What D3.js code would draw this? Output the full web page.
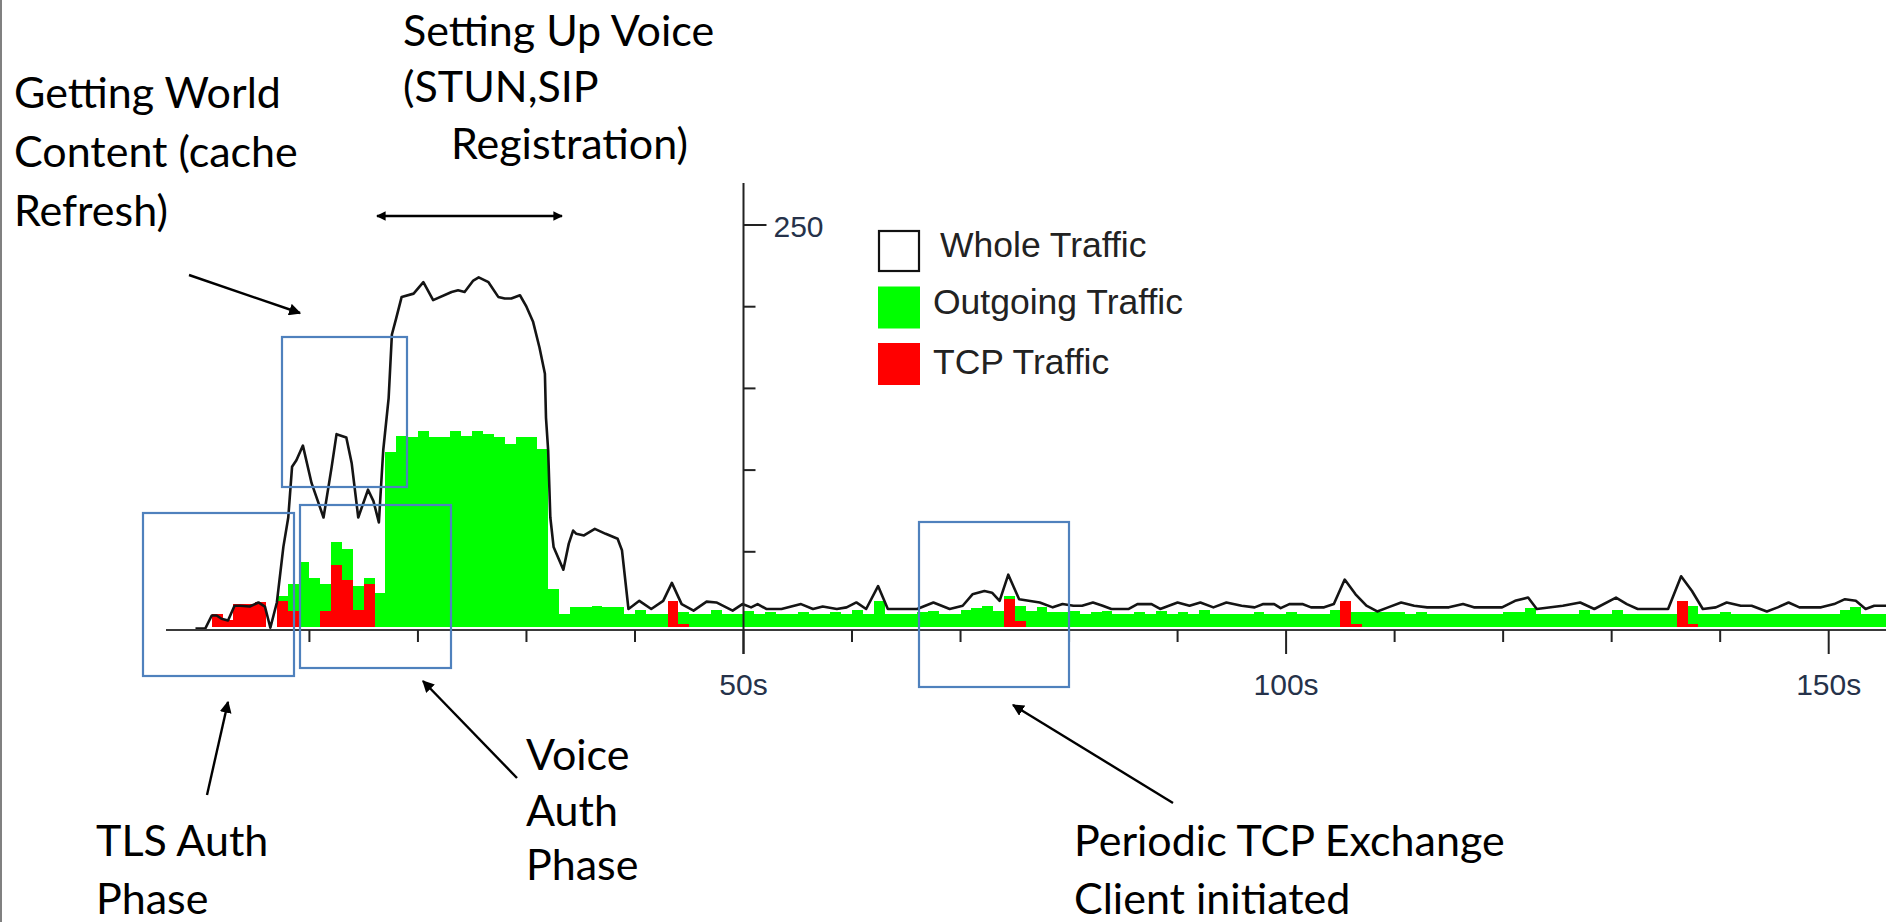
<!DOCTYPE html>
<html><head><meta charset="utf-8">
<script src="https://cdn.jsdelivr.net/npm/d3@7"></script>
<style>html,body{margin:0;padding:0;background:#fff;overflow:hidden}</style>
</head><body>
<svg id="c" width="1886" height="922"></svg>
<script>
// ---------- DATA ----------
// Outgoing traffic per 1 s bin, t = 0 .. 155
const outgoing = [
  0,0,0,0,0,0,0,23,30,44, 34,30,56,52,29,34,25,111,121,120,
  124,120,120,124,121,124,122,120,116,120, 120,113,27,12,16,16,17,16,16,12,
  14.5,12,12,13,13,12,12,14.5,12,12, 13.5,12,13,12,12,13,12,12,13,12,
  14.5,12,20,12,12,12,13,13.5,12,12, 14.5,15.5,17,14,23,17,14,16,13,13,
  14,12,13,14,12,12,13,12,14,12, 13,12,14.5,12,12,12,12,13,12,12,
  13,12,12,12,14.5,13,13,13,13,13, 13,12,13,12,12,12,12,12,12,12,
  13,13,15.7,12,12,12,12,14.5,12,12, 14.5,12,12,12,12,12,13,17,12,12,
  13,12,12,12,12,12,12,12,12,12, 12,14.5,16,12,12,12
];
// TCP traffic per 1 s bin, t = 0 .. 155
const tcp = [
  0,12,8,18,18,19,0,20,14,0, 0,14,42,33,14.5,30,0,0,0,0,
  0,0,0,0,0,0,0,0,0,0, 0,0,0,0,0,0,0,0,0,0,
  0,0,0,20,6,0,0,0,0,0, 0,0,0,0,0,0,0,0,0,0,
  0,0,0,0,0,0,0,0,0,0, 0,0,0,0,21,7.5,0,0,0,0,
  0,0,0,0,0,0,0,0,0,0, 0,0,0,0,0,0,0,0,0,0,
  0,0,0,0,0,20,6,0,0,0, 0,0,0,0,0,0,0,0,0,0,
  0,0,0,0,0,0,0,0,0,0, 0,0,0,0,0,0,20,6,0,0,
  0,0,0,0,0,0,0,0,0,0, 0,0,0,0,0,0
];
// Whole traffic line: [time (s), value]
const whole = [
  [-0.5,3],[0.4,3],[1.0,11],[1.45,11],[1.9,9],[2.5,8],[3.1,17],[3.6,17],[4.5,16.5],[5.3,19],
  [5.9,16.5],[6.4,3.5],[7.0,19],[7.6,53],[8.05,71],[8.4,102],[8.8,106],[9.4,115],[10.2,92],[11.3,71],
  [12.05,102],[12.5,122],[13.4,120],[13.9,104],[14.5,71],[15.4,88],[15.9,81],[16.4,68],[16.8,112],[17.3,144],
  [17.6,183],[18.0,193],[18.5,206],[19.6,208],[20.5,215],[21.4,204],[23.1,209],[23.7,210],[24.3,209],[25.1,216],
  [25.6,218],[26.5,215],[27.4,206],[28.0,205],[28.6,205],[29.4,207],[30.0,200],[30.6,191],[31.2,175],[31.7,159],
  [31.8,132],[32.0,112],[32.2,71],[32.5,53],[33.4,39],[33.9,55],[34.3,63],[34.6,61],[35.3,60],[36.3,64],
  [37.3,61],[38.4,58],[38.8,51],[39.4,15],[39.8,17],[40.4,20],[41.5,15],[42.6,20],[43.4,31],[44.3,18],
  [45.4,14],[46.6,19.5],[47.5,19],[49.0,14],[49.9,18],[50.7,16],[51.3,18],[52.1,15],[53.5,15],[54.4,16.5],
  [55.3,18],[56.4,15],[57.3,16.5],[58.6,15],[59.5,16],[60.4,19],[61.3,15],[62.4,29],[63.3,15],[66.0,15],
  [67.5,19],[69.0,15],[70.2,17],[71.1,24],[72.2,26],[72.9,25],[73.6,20],[74.4,36],[75.4,21],[77.3,19],
  [78.5,16],[79.4,18],[80.4,17],[81.2,17],[82.2,19],[83.1,17],[83.9,15],[85.5,15],[86.3,18],[87.6,18],
  [88.4,15],[90.0,19],[91.1,17],[92.1,19],[93.3,16],[94.5,19],[95.9,17],[97.1,16],[97.9,18],[98.9,18],
  [99.5,15.5],[100.3,18],[101.5,18],[102.3,16],[103.5,16],[104.4,18],[105.4,33],[106.4,24],[107.4,17],[108.4,13.5],
  [109.4,16],[110.6,19],[111.8,17],[113.0,16],[115.0,16],[116.3,18],[117.3,16],[119.9,16],[121.1,20],[122.3,22],
  [123.1,15],[125.5,17],[127.1,19],[128.4,15],[130.4,22],[131.4,18],[132.4,15],[135.2,15],[136.4,35],[137.4,26],
  [138.4,15],[139.6,16],[140.6,19],[141.9,17],[142.9,17],[144.3,13.5],[145.3,16],[146.3,19],[147.3,16],[149.3,16],
  [150.5,18],[151.5,21],[152.5,20],[153.4,15],[154.2,17],[155.5,17]
];
const xMajorTicks = [50, 100, 150];
const xMinorTicks = [10, 20, 30, 40, 60, 70, 80, 90, 110, 120, 130, 140];
const yTicks = [50, 100, 150, 200, 250];
const yLabelledTicks = [250];
const legendLabels = ["Whole Traffic", "Outgoing Traffic", "TCP Traffic"];
const noteVoiceSetup = ["Setting Up Voice", "(STUN,SIP", "Registration)"];
const noteWorld = ["Getting World", "Content (cache", "Refresh)"];
const noteTLS = ["TLS Auth", "Phase"];
const noteVoiceAuth = ["Voice", "Auth", "Phase"];
const notePeriodic = ["Periodic TCP Exchange", "Client initiated"];

// ---------- DRAWING ----------
const svg = d3.select('#c');
svg.append('rect').attr('width',1886).attr('height',922).attr('fill','#fff');
const defs = svg.append('defs');
defs.append('marker').attr('id','ah').attr('viewBox','0 0 10 10')
  .attr('refX',9).attr('refY',5).attr('markerWidth',5).attr('markerHeight',5)
  .attr('orient','auto-start-reverse')
  .append('path').attr('d','M0,0L10,5L0,10z').attr('fill','#000');
defs.append('marker').attr('id','ahs').attr('viewBox','0 0 10 10')
  .attr('refX',9).attr('refY',5).attr('markerWidth',4).attr('markerHeight',4)
  .attr('orient','auto-start-reverse')
  .append('path').attr('d','M0,0L10,5L0,10z').attr('fill','#000');
defs.append('clipPath').attr('id','plotclip').append('rect')
  .attr('x',0).attr('y',0).attr('width',1886).attr('height',627);

// slide border on the left
svg.append('line').attr('x1',1).attr('x2',1).attr('y1',0).attr('y2',922)
  .attr('stroke','#808080').attr('stroke-width',2);

const x = d3.scaleLinear().domain([0, 50]).range([200.9, 743.5]);
const y = d3.scaleLinear().domain([0, 250]).range([633.5, 225]);
const barBottom = 627;

const asBins = arr => arr.map((v,i) => ({t:i, v:v})).filter(d => d.v > 0);
const plot = svg.append('g').attr('clip-path','url(#plotclip)');
plot.append('g').selectAll('rect').data(asBins(outgoing)).join('rect')
  .attr('x', d => x(d.t)).attr('width', d => x(d.t+1) - x(d.t))
  .attr('y', d => y(d.v)).attr('height', d => barBottom - y(d.v))
  .attr('fill','#00ff00').attr('shape-rendering','crispEdges');
plot.append('g').selectAll('rect').data(asBins(tcp)).join('rect')
  .attr('x', d => x(d.t)).attr('width', d => x(d.t+1) - x(d.t))
  .attr('y', d => y(d.v)).attr('height', d => barBottom - y(d.v))
  .attr('fill','#ff0000').attr('shape-rendering','crispEdges');
svg.append('path').datum(whole)
  .attr('d', d3.line().x(d => x(d[0])).y(d => y(d[1])))
  .attr('fill','none').attr('stroke','#141414').attr('stroke-width',2.6)
  .attr('stroke-linejoin','round');

// x axis
svg.append('line').attr('x1',166).attr('x2',1886).attr('y1',630).attr('y2',630)
  .attr('stroke','#3a3a3a').attr('stroke-width',2);
svg.append('g').selectAll('line').data(xMinorTicks).join('line')
  .attr('x1', d => x(d)).attr('x2', d => x(d)).attr('y1',630).attr('y2',642)
  .attr('stroke','#222').attr('stroke-width',2);
svg.append('g').selectAll('line').data(xMajorTicks).join('line')
  .attr('x1', d => x(d)).attr('x2', d => x(d)).attr('y1',630).attr('y2',654)
  .attr('stroke','#222').attr('stroke-width',2);
svg.append('g').selectAll('text').data(xMajorTicks).join('text')
  .attr('x', d => x(d)).attr('y', 695).attr('text-anchor','middle')
  .attr('font-family','Liberation Sans, Arial, sans-serif').attr('font-size',30)
  .attr('fill','#26324a').text(d => d + 's');

// y axis
svg.append('line').attr('x1',x(50)).attr('x2',x(50)).attr('y1',183).attr('y2',654)
  .attr('stroke','#222').attr('stroke-width',2);
svg.append('g').selectAll('line').data(yTicks).join('line')
  .attr('x1', x(50)).attr('x2', d => yLabelledTicks.includes(d) ? x(50)+23 : x(50)+12)
  .attr('y1', d => y(d)).attr('y2', d => y(d))
  .attr('stroke','#222').attr('stroke-width',2);
svg.append('g').selectAll('text').data(yLabelledTicks).join('text')
  .attr('x', x(50)+30).attr('y', d => y(d)+12)
  .attr('font-family','Liberation Sans, Arial, sans-serif').attr('font-size',30)
  .attr('fill','#26324a').text(d => d);

// legend
const lg = svg.append('g');
const lgFills = ['#fff','#00ff00','#ff0000'];
lgFills.forEach((f,i) => {
  const top = 230 + i*56.5;
  lg.append('rect').attr('x', i===0 ? 879 : 878).attr('y', i===0 ? top+1 : top)
    .attr('width', i===0 ? 40 : 42).attr('height', i===0 ? 40 : 42)
    .attr('fill', f).attr('stroke', i===0 ? '#111' : 'none').attr('stroke-width', 2.2);
  lg.append('text').attr('x', i===0 ? 940 : 933).attr('y', top+27+ (i===2?4:0))
    .attr('font-family','Liberation Sans, Arial, sans-serif').attr('font-size',35.5)
    .attr('fill','#222').text(legendLabels[i]);
});

// blue boxes
const boxes = [[143,513,294,676],[300,505,451,668],[282,337,407,487],[919,522,1069,687]];
svg.append('g').selectAll('rect').data(boxes).join('rect')
  .attr('x', d => d[0]).attr('y', d => d[1]).attr('width', d => d[2]-d[0]).attr('height', d => d[3]-d[1])
  .attr('fill','none').attr('stroke','#4f81bd').attr('stroke-width',2.2);

// annotations
const noteFont = 'Lato, "Open Sans", sans-serif';
function note(lines, xs, ys) {
  lines.forEach((t,i) => svg.append('text').attr('x', xs[i]).attr('y', ys[i])
    .attr('font-family', noteFont).attr('font-size', 43).attr('fill','#000').text(t));
}
note(noteVoiceSetup, [403,403,451], [46,102,159]);
note(noteWorld, [14,14,14], [108,167,226]);
note(noteTLS, [96,96], [856,914]);
note(noteVoiceAuth, [526,526,526], [770,826,880]);
note(notePeriodic, [1074,1074], [856,914]);

// arrows
function arrow(x1,y1,x2,y2,both,small) {
  const l = svg.append('line').attr('x1',x1).attr('y1',y1).attr('x2',x2).attr('y2',y2)
    .attr('stroke','#000').attr('stroke-width',2.4)
    .attr('marker-end', small ? 'url(#ahs)' : 'url(#ah)');
  if (both) l.attr('marker-start', small ? 'url(#ahs)' : 'url(#ah)');
}
arrow(377,216,562,216,true,true);
arrow(189,275,300,313,false,false);
arrow(207,795,228,702,false,false);
arrow(517,778,423,681,false,false);
arrow(1173,803,1013,705,false,false);
</script>
</body></html>
